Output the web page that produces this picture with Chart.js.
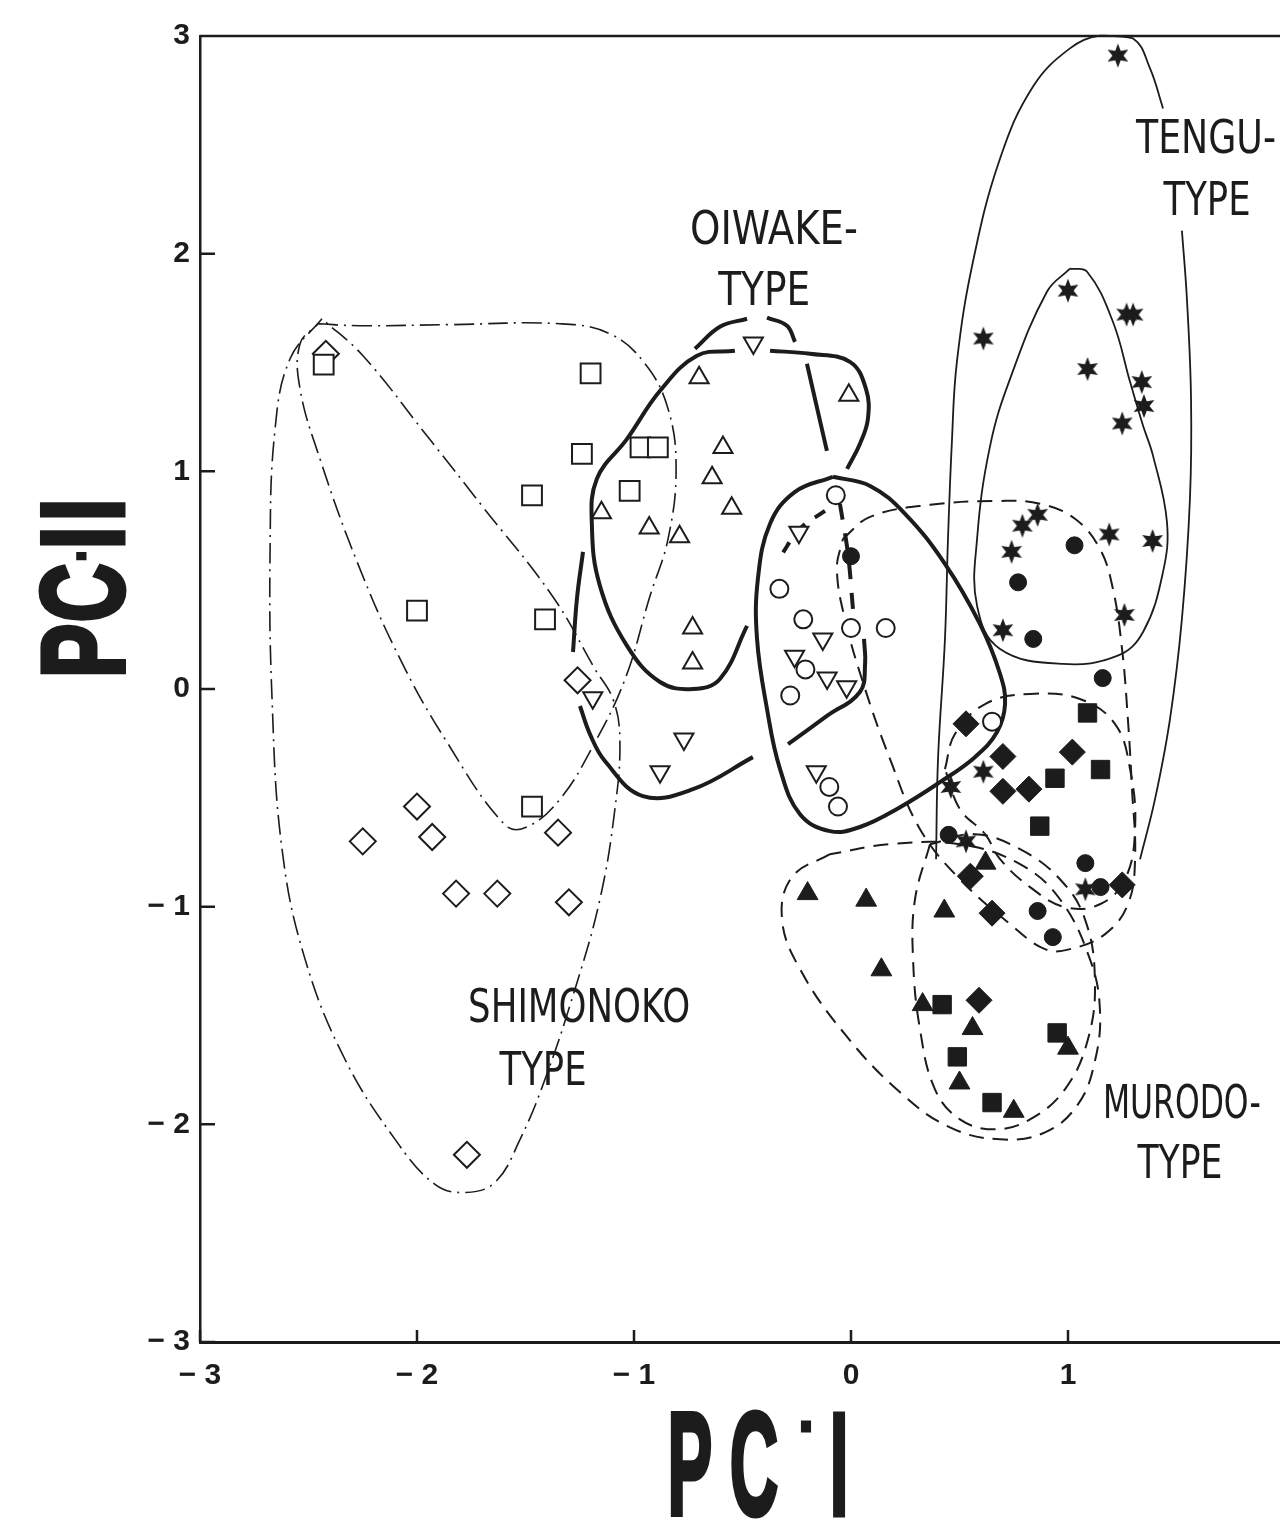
<!DOCTYPE html>
<html>
<head>
<meta charset="utf-8">
<script src="https://cdn.jsdelivr.net/npm/chart.js@4.4.1/dist/chart.umd.min.js"></script>
<style>
  html, body { margin: 0; background: #fff; overflow: hidden; }
  #wrap { width: 1280px; height: 1525px; }
</style>
</head>
<body>
<div id="wrap"><canvas id="pca"></canvas></div>
<script>
// axis ticks
const xTicks = [-3, -2, -1, 0, 1];
const yTicks = [-3, -2, -1, 0, 1, 2, 3];

// scores [PC-I, PC-II], one array per symbol
const openSquare = [[-2.43,1.49],[-1.20,1.45],[-1.24,1.08],[-1.47,0.89],[-0.97,1.11],[-0.89,1.11],[-1.02,0.91],[-2.00,0.36],[-1.41,0.32],[-1.47,-0.54]];
const openDiamond = [[-2.42,1.54],[-1.26,0.04],[-2.00,-0.54],[-2.25,-0.70],[-1.93,-0.68],[-1.35,-0.66],[-1.82,-0.94],[-1.63,-0.94],[-1.30,-0.98],[-1.77,-2.14]];
const openTriUp = [[-0.70,1.43],[-0.01,1.35],[-0.59,1.11],[-0.64,0.97],[-0.55,0.83],[-1.15,0.81],[-0.93,0.74],[-0.79,0.70],[-0.73,0.28],[-0.73,0.12]];
const openTriDown = [[-0.45,1.59],[-0.24,0.72],[-1.19,-0.04],[-0.77,-0.23],[-0.88,-0.38],[-0.13,0.23],[-0.26,0.15],[-0.11,0.05],[-0.02,0.01],[-0.16,-0.38]];
const openCircle = [[-0.07,0.89],[-0.33,0.46],[-0.22,0.32],[0.00,0.28],[0.16,0.28],[-0.21,0.09],[-0.28,-0.03],[-0.10,-0.45],[-0.06,-0.54],[0.65,-0.15]];
const solidCircle = [[0.00,0.61],[1.03,0.66],[0.77,0.49],[0.84,0.23],[1.16,0.05],[0.45,-0.67],[1.08,-0.80],[0.86,-1.02],[0.93,-1.14],[1.15,-0.91]];
const solidStar = [[1.23,2.91],[1.00,1.83],[1.27,1.72],[1.30,1.72],[0.61,1.61],[1.09,1.47],[1.34,1.41],[1.35,1.30],[1.25,1.22],[0.86,0.80],[0.79,0.75],[1.19,0.71],[1.39,0.68],[0.74,0.63],[1.26,0.34],[0.70,0.27],[0.61,-0.38],[0.46,-0.45],[0.53,-0.70],[1.08,-0.92]];
const solidDiamond = [[0.53,-0.16],[0.70,-0.31],[0.70,-0.47],[0.82,-0.46],[1.02,-0.29],[1.25,-0.90],[0.55,-0.86],[0.65,-1.03],[0.59,-1.43]];
const solidSquare = [[1.09,-0.11],[1.15,-0.37],[0.94,-0.41],[0.87,-0.63],[0.42,-1.45],[0.49,-1.69],[0.65,-1.90],[0.95,-1.58]];
const solidTriangle = [[-0.20,-0.94],[0.07,-0.97],[0.14,-1.29],[0.33,-1.45],[0.43,-1.02],[0.56,-1.56],[0.50,-1.81],[0.75,-1.94],[1.00,-1.65],[0.62,-0.80]];

// hand-drawn group outlines, traced in the same units
const shimoSquareLoop = [[-2.456,1.678],[-2.263,1.669],[-1.848,1.674],[-1.341,1.678],[-1.111,1.632],[-0.949,1.494],[-0.843,1.287],[-0.806,1.011],[-0.843,0.690],[-0.926,0.428],[-1.041,0.046],[-1.189,-0.262],[-1.341,-0.506],[-1.493,-0.634],[-1.594,-0.625],[-1.862,-0.244],[-2.078,0.138],[-2.276,0.584],[-2.447,1.057],[-2.539,1.379],[-2.539,1.586],[-2.456,1.678]];
const shimoDiamondLoop = [[-2.438,1.701],[-2.585,1.517],[-2.654,1.195],[-2.677,0.644],[-2.668,-0.046],[-2.622,-0.736],[-2.516,-1.241],[-2.332,-1.701],[-2.101,-2.069],[-1.917,-2.276],[-1.779,-2.313],[-1.641,-2.267],[-1.525,-2.069],[-1.410,-1.793],[-1.272,-1.379],[-1.157,-0.966],[-1.088,-0.552],[-1.065,-0.230],[-1.097,-0.046],[-1.180,0.092],[-1.373,0.423],[-1.700,0.841],[-1.954,1.163],[-2.249,1.531],[-2.438,1.701]];
const oiwakeLeft = [[-0.479,0.290],[-0.604,0.046],[-0.728,0.000],[-0.880,0.032],[-1.032,0.198],[-1.157,0.474],[-1.194,0.749],[-1.171,0.966],[-1.032,1.149],[-0.880,1.370],[-0.710,1.531],[-0.535,1.554]];
const oiwakeRight = [[-0.373,1.554],[-0.189,1.540],[-0.005,1.503],[0.069,1.379],[0.078,1.241],[0.041,1.126],[-0.018,1.011]];
const oiwakeStroke = [[-0.203,1.494],[-0.111,1.094]];
const capLeft = [[-0.719,1.563],[-0.604,1.664],[-0.479,1.701]];
const capRight = [[-0.387,1.706],[-0.295,1.669],[-0.258,1.595]];
const triDownArcLeft = [[-1.235,0.630],[-1.263,0.414],[-1.281,0.170]];
const triDownArcLow = [[-1.249,-0.078],[-1.203,-0.207],[-1.134,-0.331],[-0.959,-0.492],[-0.728,-0.460],[-0.452,-0.313]];
const circleLoop = [[-0.083,0.975],[0.088,0.933],[0.249,0.805],[0.433,0.575],[0.594,0.299],[0.687,0.069],[0.710,-0.069],[0.673,-0.198],[0.571,-0.313],[0.410,-0.428],[0.226,-0.543],[0.041,-0.634],[-0.097,-0.653],[-0.235,-0.575],[-0.327,-0.368],[-0.387,-0.092],[-0.433,0.230],[-0.429,0.506],[-0.373,0.759],[-0.258,0.906],[-0.083,0.975]];
const circleInner = [[-0.290,-0.253],[-0.111,-0.124],[0.041,-0.014],[0.065,0.115],[0.060,0.230]];
const circleDashA = [[-0.051,0.851],[-0.014,0.621],[0.009,0.368]];
const circleDashB = [[-0.120,0.818],[-0.235,0.736],[-0.327,0.607]];
const solidCircleLoop = [[-0.037,0.690],[0.088,0.791],[0.364,0.846],[0.687,0.864],[0.871,0.851],[1.032,0.782],[1.147,0.644],[1.207,0.460],[1.249,0.184],[1.276,-0.138],[1.295,-0.460],[1.309,-0.782],[1.276,-0.989],[1.171,-1.126],[1.009,-1.195],[0.894,-1.195],[0.733,-1.080],[0.502,-0.874],[0.318,-0.644],[0.180,-0.322],[0.065,0.000],[-0.028,0.322],[-0.065,0.552],[-0.037,0.690]];
const solidDiamondLoop = [[0.433,-0.368],[0.479,-0.207],[0.618,-0.069],[0.825,-0.023],[1.055,-0.046],[1.217,-0.161],[1.286,-0.368],[1.309,-0.644],[1.263,-0.874],[1.147,-0.989],[0.986,-1.002],[0.825,-0.910],[0.687,-0.782],[0.618,-0.667],[0.502,-0.552],[0.433,-0.368]];
const solidSquareLoop = [[0.364,-0.713],[0.295,-0.966],[0.286,-1.241],[0.318,-1.563],[0.387,-1.839],[0.502,-1.977],[0.664,-2.023],[0.825,-1.977],[0.986,-1.839],[1.092,-1.609],[1.124,-1.333],[1.078,-1.057],[0.963,-0.874],[0.779,-0.736],[0.571,-0.667],[0.364,-0.713]];
const solidTriLoop = [[-0.097,-0.759],[-0.272,-0.864],[-0.318,-1.057],[-0.235,-1.287],[-0.028,-1.586],[0.226,-1.853],[0.456,-2.014],[0.687,-2.069],[0.894,-2.037],[1.046,-1.908],[1.124,-1.710],[1.147,-1.471],[1.101,-1.241],[0.963,-0.966],[0.779,-0.805],[0.502,-0.713],[0.180,-0.713],[-0.097,-0.759]];
const tenguOuterLeft = [[0.392,-0.782],[0.401,-0.322],[0.433,0.230],[0.447,0.690],[0.465,1.136],[0.488,1.503],[0.562,1.963],[0.687,2.437],[0.839,2.768],[1.009,2.943],[1.147,3.002],[1.300,2.989],[1.378,2.851],[1.438,2.667]];
const tenguOuterRight = [[1.525,2.106],[1.548,1.793],[1.567,1.333],[1.562,0.874],[1.525,0.322],[1.470,-0.138],[1.401,-0.506],[1.332,-0.782]];
const tenguInner = [[1.009,1.931],[0.903,1.825],[0.733,1.425],[0.641,1.117],[0.581,0.690],[0.581,0.382],[0.687,0.184],[0.977,0.115],[1.226,0.152],[1.346,0.262],[1.438,0.538],[1.456,0.768],[1.392,1.071],[1.346,1.209],[1.286,1.411],[1.207,1.687],[1.088,1.917],[1.009,1.931]];

const ink = '#1c1c1c';
const toXY = a => a.map(p => ({ x: p[0], y: p[1] }));

// filled six-pointed star marker
function starMarker() {
  const c = document.createElement('canvas');
  c.width = 26; c.height = 26;
  const g = c.getContext('2d');
  g.fillStyle = ink;
  g.beginPath();
  for (let i = 0; i < 12; i++) {
    const r = i % 2 ? 5.5 : 12;
    const a = -Math.PI / 2 + i * Math.PI / 6;
    g.lineTo(13 + r * Math.cos(a), 13 + r * Math.sin(a));
  }
  g.closePath();
  g.fill();
  return c;
}

function points(data, style, filled, radius, rotation) {
  return {
    data: toXY(data),
    showLine: false,
    pointStyle: style,
    pointRadius: radius,
    pointHoverRadius: radius,
    pointRotation: rotation || 0,
    pointBackgroundColor: filled ? ink : '#fff',
    pointBorderColor: ink,
    pointBorderWidth: filled ? 1 : 2,
    clip: false,
    order: 0
  };
}

function curve(data, width, dash) {
  return {
    data: toXY(data),
    showLine: true,
    fill: false,
    tension: 0.4,
    pointRadius: 0,
    pointHoverRadius: 0,
    borderColor: ink,
    borderWidth: width,
    borderDash: dash || [],
    clip: false,
    order: 1
  };
}

const dashDot = [20, 6, 2, 6];
const dashed = [15, 9];

const datasets = [
  points(openSquare, 'rect', false, 14),
  points(openDiamond, 'rectRot', false, 13),
  points(openTriUp, 'triangle', false, 11),
  points(openTriDown, 'triangle', false, 11, 180),
  points(openCircle, 'circle', false, 9),
  points(solidCircle, 'circle', true, 8.5),
  points(solidStar, starMarker(), true, 12),
  points(solidDiamond, 'rectRot', true, 13),
  points(solidSquare, 'rect', true, 13),
  points(solidTriangle, 'triangle', true, 12),
  curve(shimoSquareLoop, 1.6, dashDot),
  curve(shimoDiamondLoop, 1.6, dashDot),
  curve(oiwakeLeft, 4),
  curve(oiwakeRight, 4),
  curve(oiwakeStroke, 4),
  curve(capLeft, 4),
  curve(capRight, 4),
  curve(triDownArcLeft, 4),
  curve(triDownArcLow, 4),
  curve(circleLoop, 4),
  curve(circleInner, 4),
  curve(circleDashA, 4, [16, 14]),
  curve(circleDashB, 4, [12, 12]),
  curve(solidCircleLoop, 2, dashed),
  curve(solidDiamondLoop, 2, dashed),
  curve(solidSquareLoop, 2, dashed),
  curve(solidTriLoop, 2, dashed),
  curve(tenguOuterLeft, 1.8),
  curve(tenguOuterRight, 1.8),
  curve(tenguInner, 1.8)
];

// group names: position in data units, w = printed width in px
const typeLabels = [
  { text: 'OIWAKE-', x: -0.355, y: 2.10, w: 168 },
  { text: 'TYPE', x: -0.40, y: 1.82, w: 92 },
  { text: 'TENGU-', x: 1.636, y: 2.52, w: 140 },
  { text: 'TYPE', x: 1.641, y: 2.233, w: 87 },
  { text: 'SHIMONOKO', x: -1.253, y: -1.475, w: 222 },
  { text: 'TYPE', x: -1.419, y: -1.764, w: 87 },
  { text: 'MURODO-', x: 1.525, y: -1.916, w: 158 },
  { text: 'TYPE', x: 1.516, y: -2.19, w: 85 }
];

function fmt(v) {
  return v < 0 ? '\u2212 ' + (-v) : String(v);
}

const framePlugin = {
  id: 'frame',
  afterDraw(chart) {
    const { ctx, chartArea: a, scales: { x, y } } = chart;
    ctx.save();
    ctx.strokeStyle = ink;
    ctx.lineWidth = 2.5;
    ctx.beginPath();
    ctx.moveTo(a.left, a.top);
    ctx.lineTo(chart.width, a.top);
    yTicks.forEach(v => {
      const py = y.getPixelForValue(v);
      ctx.moveTo(a.left, py);
      ctx.lineTo(a.left + 15, py);
    });
    xTicks.forEach(v => {
      const px = x.getPixelForValue(v);
      ctx.moveTo(px, a.bottom);
      ctx.lineTo(px, a.bottom - 12);
    });
    ctx.stroke();

    // group names
    ctx.fillStyle = ink;
    ctx.font = '47px "Liberation Sans Narrow", "DejaVu Sans Condensed", sans-serif';
    ctx.textAlign = 'center';
    ctx.textBaseline = 'middle';
    typeLabels.forEach(l => {
      const sx = l.w / ctx.measureText(l.text).width;
      ctx.save();
      ctx.translate(x.getPixelForValue(l.x), y.getPixelForValue(l.y));
      ctx.scale(sx, 1);
      ctx.fillText(l.text, 0, 0);
      ctx.restore();
    });

    // axis titles, narrow heavy letters
    const glyph = (ch, cx, base, size, sx) => {
      ctx.save();
      ctx.translate(cx, base);
      ctx.scale(sx, 1);
      ctx.font = 'bold ' + size + 'px "Liberation Sans", Arial, sans-serif';
      ctx.textAlign = 'center';
      ctx.textBaseline = 'alphabetic';
      ctx.lineWidth = 5;
      ctx.strokeStyle = ink;
      ctx.fillText(ch, 0, 0);
      ctx.strokeText(ch, 0, 0);
      ctx.restore();
    };
    glyph('P', 690, 1515, 146, 0.46);
    glyph('C', 754, 1515, 146, 0.46);
    glyph('-', 806, 1442, 60, 0.5);
    glyph('I', 839, 1515, 146, 0.46);

    ctx.save();
    ctx.translate(123, 680);
    ctx.rotate(-Math.PI / 2);
    glyph('P', 29, 0, 116, 0.7);
    glyph('C', 87, 0, 116, 0.7);
    glyph('-', 124, -30, 44, 0.5);
    glyph('I', 142, 0, 116, 0.7);
    glyph('I', 170, 0, 116, 0.7);
    ctx.restore();
    ctx.restore();
  }
};

const tickFont = { family: '"Liberation Sans", Arial, sans-serif', size: 30, weight: 'bold' };

new Chart(document.getElementById('pca'), {
  type: 'scatter',
  data: { datasets },
  options: {
    responsive: true,
    maintainAspectRatio: false,
    animation: false,
    events: [],
    layout: { autoPadding: false, padding: { top: 36, right: 0, bottom: 0, left: 0 } },
    plugins: { legend: { display: false }, tooltip: { enabled: false } },
    scales: {
      x: {
        type: 'linear',
        min: -3,
        max: 1.977,
        grid: { drawOnChartArea: false, drawTicks: false },
        border: { display: true, color: ink, width: 3 },
        ticks: { stepSize: 1, color: ink, font: tickFont, padding: 16, callback: fmt },
        afterBuildTicks: s => { s.ticks = xTicks.map(v => ({ value: v })); },
        afterFit: s => { s.height = 183; s.paddingRight = 0; s.paddingLeft = 0; }
      },
      y: {
        type: 'linear',
        min: -3,
        max: 3,
        grid: { drawOnChartArea: false, drawTicks: false },
        border: { display: true, color: ink, width: 2.5 },
        ticks: { stepSize: 1, color: ink, font: tickFont, padding: 10, callback: fmt },
        afterBuildTicks: s => { s.ticks = yTicks.map(v => ({ value: v })); },
        afterFit: s => { s.width = 200; s.paddingTop = 0; s.paddingBottom = 0; }
      }
    }
  },
  plugins: [framePlugin]
});
</script>
</body>
</html>
